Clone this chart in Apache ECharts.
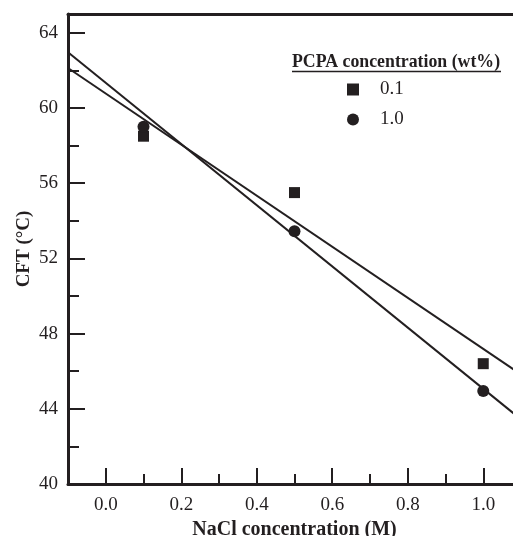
<!DOCTYPE html>
<html>
<head>
<meta charset="utf-8">
<script src="https://cdn.jsdelivr.net/npm/echarts@6/dist/echarts.min.js"></script>
<style>html,body{margin:0;padding:0;background:#fff}#c{width:513px;height:536px}</style>
</head>
<body>
<div id="c"></div>
<script>
// ---- data ----
const nacl = [0.1, 0.5, 1.0];
const cft_pcpa01 = [58.5, 55.5, 46.4];   // squares, 0.1 wt%
const cft_pcpa10 = [59.0, 53.45, 44.95]; // circles, 1.0 wt%
// fitted lines (end points)
const fit01_x = [-0.1, 1.1];
const fit01_y = [62.13, 45.83];
const fit10_x = [-0.1, 1.1];
const fit10_y = [62.97, 43.44];
const xMajorTicks = [0.0, 0.2, 0.4, 0.6, 0.8, 1.0];
const xMinorTicks = [0.1, 0.3, 0.5, 0.7, 0.9];
const seriesNames = ['0.1', '1.0'];
const legendTitle = 'PCPA concentration (wt%)';
const xTitle = 'NaCl concentration (M)';
const yTitle = 'CFT (\u00B0C)';

const ink = '#231f20';
const font = 'Liberation Serif';
const pairs = (xs, ys) => xs.map((x, i) => [x, ys[i]]);

const chart = echarts.init(document.getElementById('c'));
chart.setOption({
  animation: false,
  backgroundColor: '#fff',
  grid: { left: 68, top: 14, bottom: 52, right: -8, containLabel: false, outerBoundsMode: 'none' },
  xAxis: [
    {
      type: 'value', min: -0.1, max: 1.1, interval: 0.1,
      name: xTitle, nameLocation: 'middle', nameGap: 30,
      nameTextStyle: { fontFamily: font, fontWeight: 'bold', fontSize: 20, color: ink },
      axisLine: { onZero: false, lineStyle: { color: ink, width: 3 } },
      axisTick: { inside: true, length: 16, lineStyle: { color: ink, width: 2 }, customValues: xMajorTicks },
      axisLabel: { customValues: xMajorTicks, formatter: v => v.toFixed(1), fontFamily: font, fontSize: 19, color: ink, margin: 12 },
      splitLine: { show: false }
    },
    {
      type: 'value', min: -0.1, max: 1.1, interval: 0.1, position: 'bottom',
      axisLine: { show: false, onZero: false },
      axisTick: { inside: true, length: 10, lineStyle: { color: ink, width: 2 }, customValues: xMinorTicks },
      axisLabel: { show: false },
      splitLine: { show: false }
    },
    {
      type: 'value', min: -0.1, max: 1.1, position: 'top',
      axisLine: { onZero: false, lineStyle: { color: ink, width: 3 } },
      axisTick: { show: false }, axisLabel: { show: false }, splitLine: { show: false }
    }
  ],
  yAxis: {
    type: 'value', min: 40, max: 65, interval: 4,
    name: yTitle, nameLocation: 'middle', nameGap: 34, nameRotate: 90, nameMoveOverlap: false,
    nameTextStyle: { fontFamily: font, fontWeight: 'bold', fontSize: 19, color: ink },
    axisLine: { onZero: false, lineStyle: { color: ink, width: 3 } },
    axisTick: { inside: true, length: 17, lineStyle: { color: ink, width: 2 } },
    minorTick: { show: true, splitNumber: 2, length: 11, lineStyle: { color: ink, width: 2 } },
    axisLabel: { fontFamily: font, fontSize: 19, color: ink, margin: 10, showMaxLabel: false },
    splitLine: { show: false }
  },
  legend: {
    orient: 'vertical', left: 342, top: 75, itemGap: 11,
    itemWidth: 12, itemHeight: 12,
    data: [{ name: seriesNames[0], icon: 'rect' }, { name: seriesNames[1], icon: 'circle' }],
    textStyle: { fontFamily: font, fontSize: 19, color: ink, padding: [0, 0, 0, 16] }
  },
  graphic: [
    { type: 'text', left: 292, top: 53, style: { text: legendTitle, font: 'bold 17.8px "Liberation Serif"', fill: ink } },
    { type: 'line', shape: { x1: 292, y1: 71.5, x2: 501, y2: 71.5 }, style: { stroke: ink, lineWidth: 1.5 } }
  ],
  series: [
    { name: 'fit01', type: 'line', data: pairs(fit01_x, fit01_y), showSymbol: false, symbol: 'none',
      lineStyle: { color: ink, width: 2 }, silent: true, z: 1 },
    { name: 'fit10', type: 'line', data: pairs(fit10_x, fit10_y), showSymbol: false, symbol: 'none',
      lineStyle: { color: ink, width: 2 }, silent: true, z: 1 },
    { name: seriesNames[0], type: 'scatter', symbol: 'rect', symbolSize: 11,
      data: pairs(nacl, cft_pcpa01), itemStyle: { color: ink, opacity: 1 }, z: 3 },
    { name: seriesNames[1], type: 'scatter', symbol: 'circle', symbolSize: 12,
      data: pairs(nacl, cft_pcpa10), itemStyle: { color: ink, opacity: 1 }, z: 3 }
  ]
});
</script>
</body>
</html>
